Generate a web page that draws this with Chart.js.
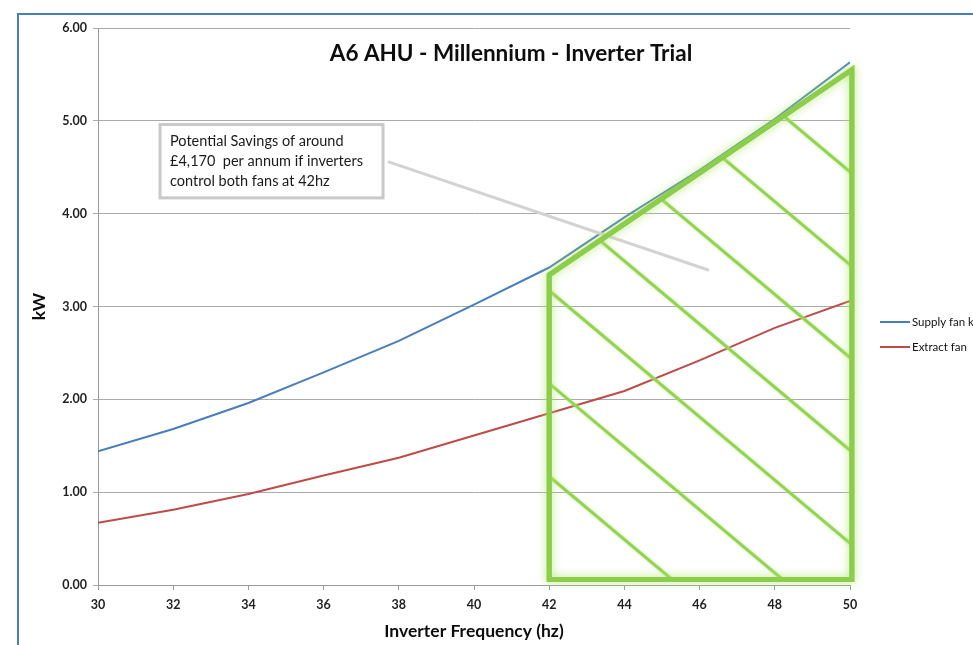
<!DOCTYPE html>
<html>
<head>
<meta charset="utf-8">
<script src="https://cdn.jsdelivr.net/npm/chart.js@4/dist/chart.umd.min.js"></script>
<style>
  html, body { margin: 0; padding: 0; background: #ffffff; }
  #wrap { width: 973px; height: 645px; position: relative; overflow: hidden; }
</style>
</head>
<body>
<div id="wrap"><canvas id="c" width="973" height="645"></canvas></div>
<script>
// Fan power against inverter frequency
const frequencies = [30, 32, 34, 36, 38, 40, 42, 44, 46, 48, 50];
const supplyFanKw = [1.44, 1.68, 1.96, 2.29, 2.63, 3.02, 3.42, 3.96, 4.47, 5.02, 5.63];
const extractFanKw = [0.67, 0.81, 0.98, 1.18, 1.37, 1.61, 1.85, 2.09, 2.42, 2.77, 3.06];
const seriesNames = ['Supply fan kW', 'Extract fan'];
const seriesColors = ['#4a7ebb', '#be4b48'];

const chartTitle = 'A6 AHU - Millennium - Inverter Trial';
const xAxisTitle = 'Inverter Frequency (hz)';
const yAxisTitle = 'kW';

// Callout text, its box corners and leader line (Hz, kW)
const noteLines = ['Potential Savings of around', '£4,170  per annum if inverters', 'control both fans at 42hz'];
const noteBox = { x0: 31.65, y0: 4.96, x1: 37.58, y1: 4.17 };
const noteLeader = [[37.71, 4.56], [46.25, 3.39]];

// Savings region outline (Hz, kW) and hatching through it
const savingsRegion = [[42, 0.06], [42, 3.34], [50.05, 5.55], [50.05, 0.06]];
const hatchStarts = [1.17, 2.17, 3.17, 4.17, 5.17, 6.17, 7.17]; // kW at 42 Hz
const hatchSlope = -0.34; // kW per Hz

const FONT = 'Lato, "Open Sans", sans-serif';

const frame = {
  id: 'frame',
  beforeDraw(chart) {
    const ctx = chart.ctx;
    ctx.save();
    ctx.fillStyle = '#ffffff';
    ctx.fillRect(0, 0, chart.width, chart.height);
    ctx.strokeStyle = '#4a7ebb';
    ctx.lineWidth = 2;
    ctx.strokeRect(18, 14, 2000, 2000);
    ctx.restore();
  }
};

const overlays = {
  id: 'overlays',
  afterDatasetsDraw(chart) {
    const ctx = chart.ctx;
    const xs = chart.scales.x, ys = chart.scales.y;
    const px = v => xs.getPixelForValue(v);
    const py = v => ys.getPixelForValue(v);
    ctx.save();

    // title inside the plot
    ctx.fillStyle = '#0d0d0d';
    ctx.font = 'bold 22.5px ' + FONT;
    ctx.textAlign = 'center';
    ctx.textBaseline = 'middle';
    ctx.fillText(chartTitle, 511, 54);

    // leader line from the callout
    ctx.strokeStyle = '#d3d3d3';
    ctx.lineWidth = 3;
    ctx.beginPath();
    ctx.moveTo(px(noteLeader[0][0]), py(noteLeader[0][1]));
    ctx.lineTo(px(noteLeader[1][0]), py(noteLeader[1][1]));
    ctx.stroke();

    // callout box
    const bx = px(noteBox.x0), by = py(noteBox.y0);
    const bw = px(noteBox.x1) - bx, bh = py(noteBox.y1) - by;
    ctx.fillStyle = '#ffffff';
    ctx.fillRect(bx, by, bw, bh);
    ctx.strokeStyle = '#c9c9c9';
    ctx.lineWidth = 3;
    ctx.strokeRect(bx, by, bw, bh);
    ctx.fillStyle = '#1a1a1a';
    ctx.font = '14.5px ' + FONT;
    ctx.textAlign = 'left';
    ctx.textBaseline = 'middle';
    noteLines.forEach((t, i) => ctx.fillText(t, bx + 10, by + 17 + i * 20));

    // savings region: hatching clipped to the outline
    const path = new Path2D();
    savingsRegion.forEach(([x, y], i) => {
      if (i === 0) path.moveTo(px(x), py(y)); else path.lineTo(px(x), py(y));
    });
    path.closePath();

    ctx.save();
    ctx.clip(path);
    ctx.strokeStyle = '#93d353';
    ctx.lineWidth = 3;
    ctx.shadowColor = 'rgba(190,235,140,0.9)';
    ctx.shadowBlur = 3;
    hatchStarts.forEach(y0 => {
      const xa = 40, xb = 52;
      ctx.beginPath();
      ctx.moveTo(px(xa), py(y0 + hatchSlope * (xa - 42)));
      ctx.lineTo(px(xb), py(y0 + hatchSlope * (xb - 42)));
      ctx.stroke();
    });
    ctx.restore();

    ctx.strokeStyle = '#8ccd4b';
    ctx.lineWidth = 5;
    ctx.lineJoin = 'miter';
    ctx.shadowColor = 'rgba(175,230,110,0.95)';
    ctx.shadowBlur = 10;
    ctx.stroke(path);
    ctx.shadowBlur = 0;
    ctx.stroke(path);
    ctx.restore();
  },
  afterDraw(chart) {
    // legend at the right
    const ctx = chart.ctx;
    ctx.save();
    ctx.font = '11.5px ' + FONT;
    ctx.textAlign = 'left';
    ctx.textBaseline = 'middle';
    chart.data.datasets.forEach((ds, i) => {
      const y = 322 + i * 25;
      ctx.strokeStyle = ds.borderColor;
      ctx.lineWidth = 2;
      ctx.beginPath();
      ctx.moveTo(880, y);
      ctx.lineTo(910, y);
      ctx.stroke();
      ctx.fillStyle = '#111111';
      ctx.fillText(ds.label, 912, y);
    });
    ctx.restore();
  }
};

new Chart(document.getElementById('c'), {
  type: 'line',
  data: {
    datasets: [
      { label: seriesNames[0], data: frequencies.map((f, i) => ({ x: f, y: supplyFanKw[i] })),
        borderColor: seriesColors[0], borderWidth: 2, pointRadius: 0, tension: 0 },
      { label: seriesNames[1], data: frequencies.map((f, i) => ({ x: f, y: extractFanKw[i] })),
        borderColor: seriesColors[1], borderWidth: 2, pointRadius: 0, tension: 0 }
    ]
  },
  options: {
    responsive: false,
    animation: false,
    events: [],
    layout: { padding: { top: 28, right: 123, bottom: 0, left: 18 } },
    plugins: { legend: { display: false }, title: { display: false }, tooltip: { enabled: false } },
    scales: {
      x: {
        type: 'linear', min: 30, max: 50,
        afterFit(s) { s.height = 60; },
        ticks: { stepSize: 2, padding: 7, color: '#1f1f1f', font: { family: FONT, size: 12.5, weight: 'bold' } },
        grid: { drawOnChartArea: false, drawTicks: true, tickLength: 5, color: '#9a9a9a' },
        border: { display: true, color: '#9a9a9a', width: 1 },
        title: { display: true, text: xAxisTitle, color: '#0d0d0d', padding: { top: 0, bottom: 3 },
                 font: { family: FONT, size: 17.5, weight: 'bold' } }
      },
      y: {
        type: 'linear', min: 0, max: 6,
        afterFit(s) { s.width = 80; },
        ticks: { stepSize: 1, padding: 6, color: '#1f1f1f', callback: v => v.toFixed(2),
                 font: { family: FONT, size: 12.5, weight: 'bold' } },
        grid: { color: '#ababab', lineWidth: 1, drawTicks: true, tickLength: 5 },
        border: { display: true, color: '#9a9a9a', width: 1 },
        title: { display: true, text: yAxisTitle, color: '#0d0d0d', padding: { top: 11, bottom: 0 },
                 font: { family: FONT, size: 17.5, weight: 'bold' } }
      }
    }
  },
  plugins: [frame, overlays]
});
</script>
</body>
</html>
